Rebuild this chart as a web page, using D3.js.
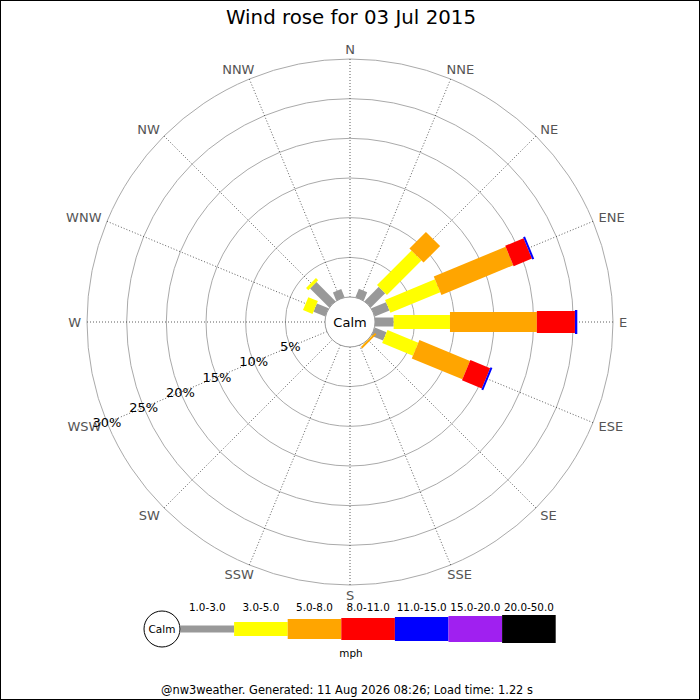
<!DOCTYPE html>
<html>
<head>
<meta charset="utf-8">
<title>Wind rose</title>
<script src="https://cdn.jsdelivr.net/npm/d3@7"></script>
<style>
  body {margin: 0; background: #fff;}
  svg {display: block; font-family: "DejaVu Sans", sans-serif;}
</style>
</head>
<body>
<script>
// data
const directions = ['N', 'NNE', 'NE', 'ENE', 'E', 'ESE', 'SE', 'SSE', 'S', 'SSW', 'SW', 'WSW', 'W', 'WNW', 'NW', 'NNW']
const speedClasses = ['1.0-3.0', '3.0-5.0', '5.0-8.0', '8.0-11.0', '11.0-15.0', '15.0-20.0', '20.0-50.0']
// percent of time, one array per speed class, in direction order
const class1to3 = [0, 1.15, 2.55, 2.0, 2.35, 1.6, 0, 0, 0, 0, 0, 0, 0, 1.6, 3.4, 1.1]
const class3to5 = [0, 0, 6.15, 6.8, 7.1, 4.2, 0.05, 0, 0, 0, 0, 0, 0, 1.3, 0.4, 0]
const class5to8 = [0, 0, 2.95, 9.8, 10.95, 6.9, 0.25, 0, 0, 0, 0, 0, 0, 0, 0, 0]
const class8to11 = [0, 0, 0, 2.5, 4.8, 2.7, 0, 0, 0, 0, 0, 0, 0, 0, 0, 0]
const class11to15 = [0, 0, 0, 0.25, 0.3, 0.25, 0, 0, 0, 0, 0, 0, 0, 0, 0, 0]
const class15to20 = [0, 0, 0, 0, 0, 0, 0, 0, 0, 0, 0, 0, 0, 0, 0, 0]
const class20to50 = [0, 0, 0, 0, 0, 0, 0, 0, 0, 0, 0, 0, 0, 0, 0, 0]
const ringTicks = [5, 10, 15, 20, 25, 30]

const series = [class1to3, class3to5, class5to8, class8to11, class11to15, class15to20, class20to50]
const colors = ['#999999', '#ffff00', '#ffa500', '#ff0000', '#0000ff', '#a020f0', '#000000']
const barWidths = [9, 14, 20, 22, 24, 26, 28]
const legendWidths = [7, 14, 20, 22, 24, 26, 28]

const W = 700, H = 700
const cx = 350, cy = 322
const calmR = 25, outerR = 263

const svg = d3.select('body').append('svg').attr('width', W).attr('height', H)
svg.append('rect').attr('x', 0.5).attr('y', 0.5).attr('width', W - 1).attr('height', H - 1)
  .attr('fill', '#fff').attr('stroke', '#000')

svg.append('text').attr('x', W / 2 + 1).attr('y', 24).attr('text-anchor', 'middle')
  .attr('font-size', 19.8).attr('fill', '#000').text('Wind rose for 03 Jul 2015')

const r = d3.scaleLinear().domain([0, 30]).range([calmR, outerR])
const angle = d3.scaleBand().domain(directions).range([0, 360]).paddingInner(0).align(0)
const deg = d => angle(d) // degrees clockwise from north
const unit = d => {
  const a = deg(d) * Math.PI / 180
  return [Math.sin(a), -Math.cos(a)]
}

const g = svg.append('g').attr('transform', `translate(${cx},${cy})`)

// rings
g.append('g').selectAll('circle').data(ringTicks).enter().append('circle')
  .attr('r', d => r(d)).attr('fill', 'none').attr('stroke', '#aaa').attr('stroke-width', 1)

// spokes
g.append('g').selectAll('line').data(directions).enter().append('line')
  .attr('x1', d => unit(d)[0] * calmR).attr('y1', d => unit(d)[1] * calmR)
  .attr('x2', d => unit(d)[0] * outerR).attr('y2', d => unit(d)[1] * outerR)
  .attr('stroke', '#333').attr('stroke-width', 0.8).attr('stroke-dasharray', '1,2')

// direction labels, pushed outward by part of their width
const labR = outerR + 6
g.append('g').selectAll('text').data(directions).enter().append('text')
  .attr('text-anchor', 'middle').attr('dy', '0.35em')
  .attr('font-size', 13).attr('fill', '#555').text(d => d)
  .each(function (d) {
    const [ux, uy] = unit(d)
    const w = this.getComputedTextLength()
    const f = Math.max(-1, Math.min(1, ux / 0.707))
    d3.select(this)
      .attr('x', ux * labR + f * w / 2)
      .attr('y', uy * labR + uy * 4)
  })

// stacked bars
const stacked = directions.map((d, i) => {
  let acc = 0
  return series.map((s, k) => {
    const start = acc
    acc += s[i]
    return {dir: d, k, start, end: acc, value: s[i]}
  }).filter(o => o.value > 0)
})
const dirG = g.append('g').selectAll('g').data(stacked).enter().append('g')
  .attr('transform', (segs, i) => `rotate(${deg(directions[i]) - 90})`)
dirG.selectAll('rect').data(segs => segs).enter().append('rect')
  .attr('x', o => r(o.start)).attr('width', o => r(o.end) - r(o.start))
  .attr('y', o => -barWidths[o.k] / 2).attr('height', o => barWidths[o.k])
  .attr('fill', o => colors[o.k])

// calm circle
g.append('circle').attr('r', calmR).attr('fill', '#fff').attr('stroke', '#999').attr('stroke-width', 1)
g.append('text').attr('text-anchor', 'middle').attr('dy', '0.35em')
  .attr('font-size', 13).attr('fill', '#000').text('Calm')

// ring labels along WSW
const [ux, uy] = unit('WSW')
g.append('g').selectAll('text').data(ringTicks).enter().append('text')
  .attr('x', d => ux * r(d)).attr('y', d => uy * r(d)).attr('dy', '0.35em')
  .attr('text-anchor', 'middle').attr('font-size', 13).attr('fill', '#000')
  .text(d => d + '%')

// legend
const legY = 629
const lx = d3.scaleBand().domain(speedClasses).range([180.5, 555.7])
const leg = svg.append('g')
leg.selectAll('rect').data(speedClasses).enter().append('rect')
  .attr('x', d => lx(d)).attr('width', lx.bandwidth())
  .attr('y', (d, i) => legY - legendWidths[i] / 2).attr('height', (d, i) => legendWidths[i])
  .attr('fill', (d, i) => colors[i])
leg.selectAll('text.cls').data(speedClasses).enter().append('text').attr('class', 'cls')
  .attr('x', d => lx(d) + lx.bandwidth() / 2).attr('y', 611)
  .attr('text-anchor', 'middle').attr('font-size', 10.4).attr('fill', '#000').text(d => d)
leg.append('circle').attr('cx', 162).attr('cy', legY).attr('r', 18)
  .attr('fill', '#fff').attr('stroke', '#000').attr('stroke-width', 1)
leg.append('text').attr('x', 162).attr('y', legY).attr('dy', '0.35em').attr('text-anchor', 'middle')
  .attr('font-size', 10.5).attr('fill', '#000').text('Calm')
leg.append('text').attr('x', 351).attr('y', 657).attr('text-anchor', 'middle')
  .attr('font-size', 10.4).attr('fill', '#000').text('mph')

svg.append('text').attr('x', 347).attr('y', 694).attr('text-anchor', 'middle')
  .attr('font-size', 11.4).attr('fill', '#000')
  .text('@nw3weather. Generated: 11 Aug 2026 08:26; Load time: 1.22 s')
</script>
</body>
</html>
